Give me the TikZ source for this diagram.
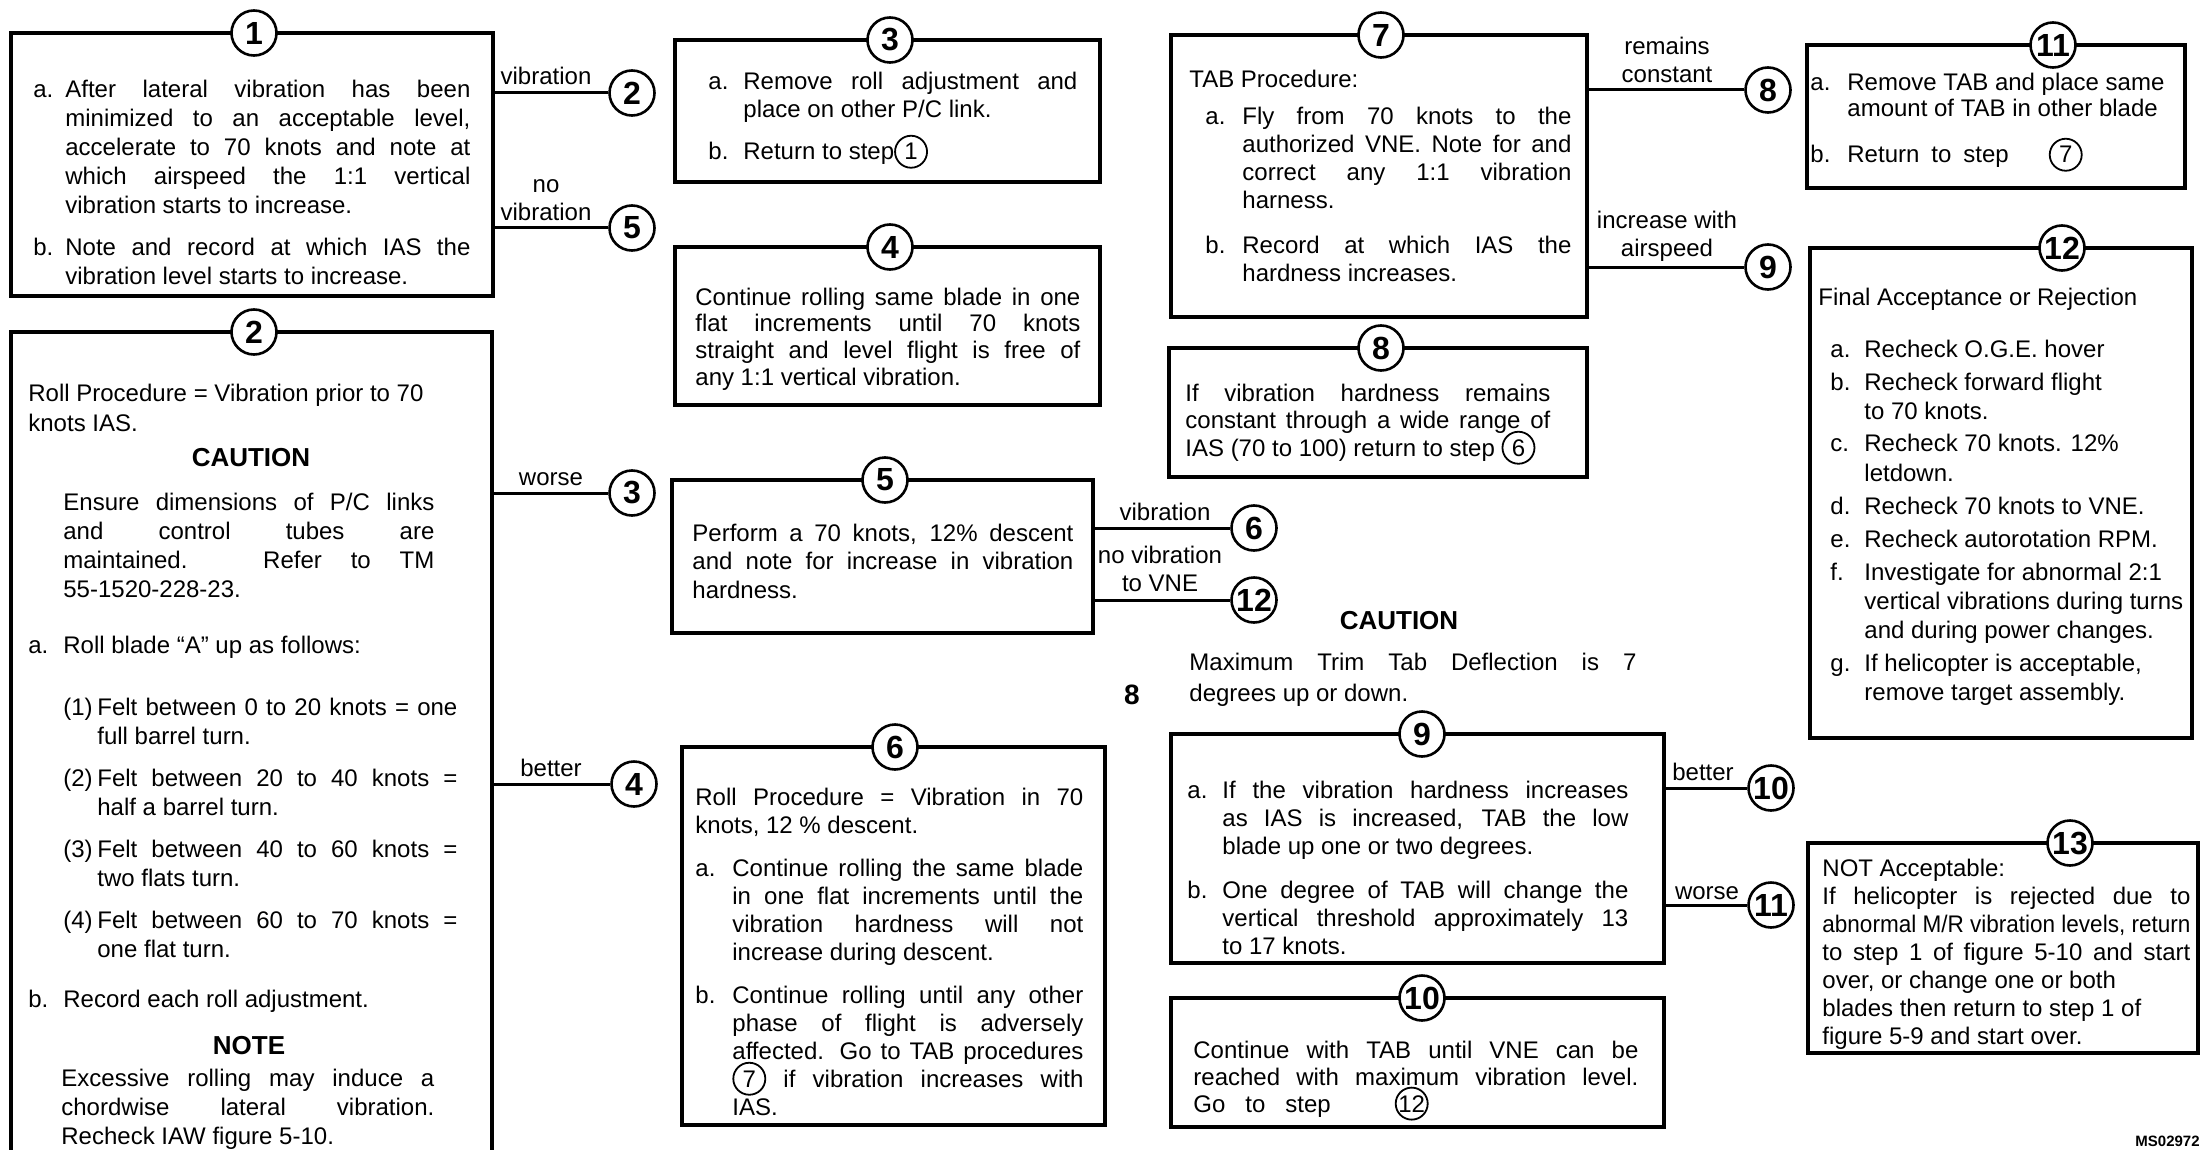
\documentclass[tikz,border=0pt]{standalone}
\usepackage{fontspec}
\setmainfont{Liberation Sans}
\usepackage{graphicx}
\usetikzlibrary{fit}
\setlength{\parindent}{0pt}
\hbadness=10000
\newcommand{\punto}[2]{\hangindent=#1\hangafter=1\noindent\makebox[#1][l]{#2}}
\newcommand{\pasito}[1]{\smash{\tikz[baseline=(q.base)]\node[draw,circle,line width=0.9pt,inner sep=0pt,minimum size=16pt,font=\fontsize{12}{12}\selectfont] (q) {#1};}}

\begin{document}
\begin{tikzpicture}[x=0.5pt,y=-0.5pt,
    caja/.style={draw,line width=1.6pt,inner sep=0pt},
    paso/.style={draw,circle,fill=white,line width=1.3pt,minimum size=22.5pt,inner sep=0pt,font=\fontsize{16}{16}\selectfont\bfseries},
    linea/.style={line width=1.5pt},
    etiqueta/.style={inner sep=0pt,align=center,font=\fontsize{12}{14}\selectfont},
    texto/.style={inner sep=0pt,anchor=base west,align=justify,font=\fontsize{12}{14}\selectfont},
    titulo/.style={inner sep=0pt,anchor=base,font=\fontsize{13}{15}\selectfont\bfseries}]
  \useasboundingbox (0,0) rectangle (2204,1150);
  \clip (0,0) rectangle (2204,1150);

  % Cajas
  \node[caja,fit={(11,33) (493,296)}] (c1) {};
  \node[caja,fit={(11,332) (492,1175)}] (c2) {};
  \node[caja,fit={(675,40) (1100,182)}] (c3) {};
  \node[caja,fit={(675,247) (1100,405)}] (c4) {};
  \node[caja,fit={(672,480) (1093,633)}] (c5) {};
  \node[caja,fit={(682,747) (1105,1125)}] (c6) {};
  \node[caja,fit={(1171,35) (1587,317)}] (c7) {};
  \node[caja,fit={(1169,348) (1587,477)}] (c8) {};
  \node[caja,fit={(1171,734) (1664,963)}] (c9) {};
  \node[caja,fit={(1171,998) (1664,1127)}] (c10) {};
  \node[caja,fit={(1807,45) (2185,188)}] (c11) {};
  \node[caja,fit={(1810,248) (2192,738)}] (c12) {};
  \node[caja,fit={(1808,843) (2198,1053)}] (c13) {};

  % Numeros de paso sobre las cajas
  \foreach \n/\x/\y in {1/254/33, 2/254/332, 3/890/40, 4/890/247, 5/885/480, 6/895/747,
      7/1381/35, 8/1381/348, 9/1422/734, 10/1422/998, 11/2053/45, 12/2062/248, 13/2070/843}
    \node[paso] (p\n) at (\x,\y) {\n};

  % Pasos destino
  \foreach \n/\x/\y in {2/632/93, 5/632/228, 3/632/493, 4/634/784, 6/1254/528, 12/1254/600,
      8/1768/90, 9/1768/267, 10/1771/788, 11/1771/905}
    \node[paso] (a\n) at (\x,\y) {\n};

  % Conectores
  \draw[linea] (c1.east |- a2) -- (a2);
  \draw[linea] (c1.east |- a5) -- (a5);
  \draw[linea] (c2.east |- a3) -- (a3);
  \draw[linea] (c2.east |- a4) -- (a4);
  \draw[linea] (c5.east |- a6) -- (a6);
  \draw[linea] (c5.east |- a12) -- (a12);
  \draw[linea] (c7.east |- a8) -- (a8);
  \draw[linea] (c7.east |- a9) -- (a9);
  \draw[linea] (c9.east |- a10) -- (a10);
  \draw[linea] (c9.east |- a11) -- (a11);

  % Etiquetas de los conectores
  \node[etiqueta,anchor=base] (e1) at (546,85) {vibration};
  \node[etiqueta,anchor=south] (e2) at (546,221) {no\\vibration};
  \node[etiqueta,anchor=base] (e3) at (551,485) {worse};
  \node[etiqueta,anchor=base] (e4) at (551,776) {better};
  \node[etiqueta,anchor=base] (e5) at (1165,520) {vibration};
  \node[etiqueta,anchor=south] (e6) at (1160,592) {no vibration\\to VNE};
  \node[etiqueta,anchor=south] (e7) at (1667,83) {remains\\constant};
  \node[etiqueta,anchor=south] (e8) at (1667,262) {increase with\\airspeed};
  \node[etiqueta,anchor=base] (e9) at (1703,780) {better};
  \node[etiqueta,anchor=base] (e10) at (1707,899) {worse};

  % Texto caja 1
  \node[texto,text width=218.5pt,font=\fontsize{12}{14.5}\selectfont] (t1) at (33,98) {%
    \punto{16pt}{a.}After lateral vibration has been\linebreak
    minimized to an acceptable level,\linebreak
    accelerate to 70 knots and note at\linebreak
    which airspeed the 1:1 vertical\linebreak
    vibration starts to increase.\par\vspace{6.5pt}
    \punto{16pt}{b.}Note and record at which IAS the\linebreak
    vibration level starts to increase.\par};

  % Texto caja 2
  \node[texto,text width=215pt,font=\fontsize{12}{15}\selectfont] (t2a) at (28,401) {%
    Roll Procedure = Vibration prior to 70\\knots IAS.\par};
  \node[titulo] (k2) at (251,466) {CAUTION};
  \node[texto,text width=185.5pt,font=\fontsize{12}{14.5}\selectfont] (t2b) at (63,510) {%
    Ensure dimensions of P/C links\linebreak
    and control tubes are\linebreak
    maintained. Refer to TM\linebreak
    55-1520-228-23.\par};
  \node[texto,text width=214.5pt,font=\fontsize{12}{14.5}\selectfont] (t2c) at (28,653) {%
    \punto{17.5pt}{a.}Roll blade “A” up as follows:\par\vspace{16.5pt}
    \leftskip=17.5pt
    \punto{17pt}{(1)}Felt between 0 to 20 knots = one\linebreak full barrel turn.\par\vspace{6.5pt}
    \punto{17pt}{(2)}Felt between 20 to 40 knots =\linebreak half a barrel turn.\par\vspace{6.5pt}
    \punto{17pt}{(3)}Felt between 40 to 60 knots =\linebreak two flats turn.\par\vspace{6.5pt}
    \punto{17pt}{(4)}Felt between 60 to 70 knots =\linebreak one flat turn.\par\vspace{10.5pt}
    \leftskip=0pt
    \punto{17.5pt}{b.}Record each roll adjustment.\par};
  \node[titulo] (k3) at (249,1054) {NOTE};
  \node[texto,text width=186.5pt,font=\fontsize{12}{14.5}\selectfont] (t2d) at (61,1086) {%
    Excessive rolling may induce a\linebreak
    chordwise lateral vibration.\linebreak
    Recheck IAW figure 5-10.\par};

  % Texto cajas 3 a 6
  \node[texto,text width=184.5pt] (t3) at (708,90) {%
    \punto{17.5pt}{a.}Remove roll adjustment and\linebreak place on other P/C link.\par\vspace{7pt}
    \punto{17.5pt}{b.}Return to step\pasito{1}\par};
  \node[texto,text width=192.5pt,font=\fontsize{12}{13.35}\selectfont] (t4) at (695,305) {%
    Continue rolling same blade in one\linebreak
    flat increments until 70 knots\linebreak
    straight and level flight is free of\linebreak
    any 1:1 vertical vibration.\par};
  \node[texto,text width=190.5pt,font=\fontsize{12}{14.25}\selectfont] (t5) at (692,541) {%
    Perform a 70 knots, 12\% descent\linebreak
    and note for increase in vibration\linebreak
    hardness.\par};
  \node[texto,text width=194pt] (t6) at (695,805) {%
    Roll Procedure = Vibration in 70\linebreak knots, 12 \% descent.\par\vspace{7.5pt}
    \punto{18.5pt}{a.}Continue rolling the same blade\linebreak
    in one flat increments until the\linebreak
    vibration hardness will not\linebreak
    increase during descent.\par\vspace{7.5pt}
    \punto{18.5pt}{b.}Continue rolling until any other\linebreak
    phase of flight is adversely\linebreak
    affected. Go to TAB procedures\linebreak
    \pasito{7} if vibration increases with\linebreak
    IAS.\par};

  % Texto cajas 7 y 8
  \node[texto,text width=191pt] (t7) at (1189,88) {%
    TAB Procedure:\par\vspace{4.5pt}
    \leftskip=8pt
    \punto{18.5pt}{a.}Fly from 70 knots to the\linebreak
    authorized VNE. Note for and\linebreak
    correct any 1:1 vibration\linebreak
    harness.\par\vspace{8.5pt}
    \punto{18.5pt}{b.}Record at which IAS the\linebreak
    hardness increases.\par};
  \node[texto,text width=182.5pt,font=\fontsize{12}{13.75}\selectfont] (t8) at (1185,401) {%
    If vibration hardness remains\linebreak
    constant through a wide range of\linebreak
    IAS (70 to 100) return to step \pasito{6}\par};

  % Aviso central
  \node[titulo] (k7) at (1399,629) {CAUTION};
  \node[texto,text width=223.5pt,font=\fontsize{12}{15.5}\selectfont] (tc) at (1189,670) {%
    Maximum Trim Tab Deflection is 7\linebreak degrees up or down.\par};
  \node[titulo,font=\fontsize{14}{16}\selectfont\bfseries] (n8) at (1132,704) {8};

  % Texto cajas 9 y 10
  \node[texto,text width=220.5pt] (t9) at (1187,798) {%
    \punto{17.5pt}{a.}If the vibration hardness increases\linebreak
    as IAS is increased, TAB the low\linebreak
    blade up one or two degrees.\par\vspace{8pt}
    \punto{17.5pt}{b.}One degree of TAB will change the\linebreak
    vertical threshold approximately 13\linebreak
    to 17 knots.\par};
  \node[texto,text width=222.5pt,font=\fontsize{12}{13.5}\selectfont] (t10) at (1193,1058) {%
    Continue with TAB until VNE can be\linebreak
    reached with maximum vibration level.\linebreak
    Go\hspace{10pt}to\hspace{10pt}step\hspace{32pt}\pasito{12}\par};

  % Texto cajas 11 a 13
  \node[texto,text width=181pt,font=\fontsize{12}{13}\selectfont] (t11) at (1810,91) {%
    \punto{18.5pt}{a.}Remove TAB and place same\\amount of TAB in other blade\par\vspace{10pt}
    \punto{18.5pt}{b.}Return\hspace{6pt}to\hspace{6pt}step\hspace{20pt}\pasito{7}\par};
  \node[texto,text width=184pt,font=\fontsize{12}{14.5}\selectfont] (t12) at (1818,305) {%
    Final Acceptance or Rejection\par\vspace{11.5pt}
    \leftskip=6pt
    \punto{17pt}{a.}Recheck O.G.E. hover\par\vspace{2pt}
    \punto{17pt}{b.}Recheck forward flight\\to 70 knots.\par\vspace{2pt}
    \punto{17pt}{c.}Recheck 70 knots. 12\%\\letdown.\par\vspace{2pt}
    \punto{17pt}{d.}Recheck 70 knots to VNE.\par\vspace{2pt}
    \punto{17pt}{e.}Recheck autorotation RPM.\par\vspace{2pt}
    \punto{17pt}{f.}Investigate for abnormal 2:1\\vertical vibrations during turns\\and during power changes.\par\vspace{2pt}
    \punto{17pt}{g.}If helicopter is acceptable,\\remove target assembly.\par};
  \node[texto,text width=184pt] (t13) at (1822,876) {%
    NOT Acceptable:\\
    If helicopter is rejected due to\linebreak
    \resizebox{\linewidth}{\height}{abnormal M/R vibration levels, return}\\
    to step 1 of figure 5-10 and start\linebreak
    over, or change one or both\\
    blades then return to step 1 of\\
    figure 5-9 and start over.\par};

  \node[inner sep=0pt,anchor=base east,font=\fontsize{7.5}{9}\selectfont\bfseries] (ms) at (2200,1146) {MS02972};
\end{tikzpicture}
\end{document}
